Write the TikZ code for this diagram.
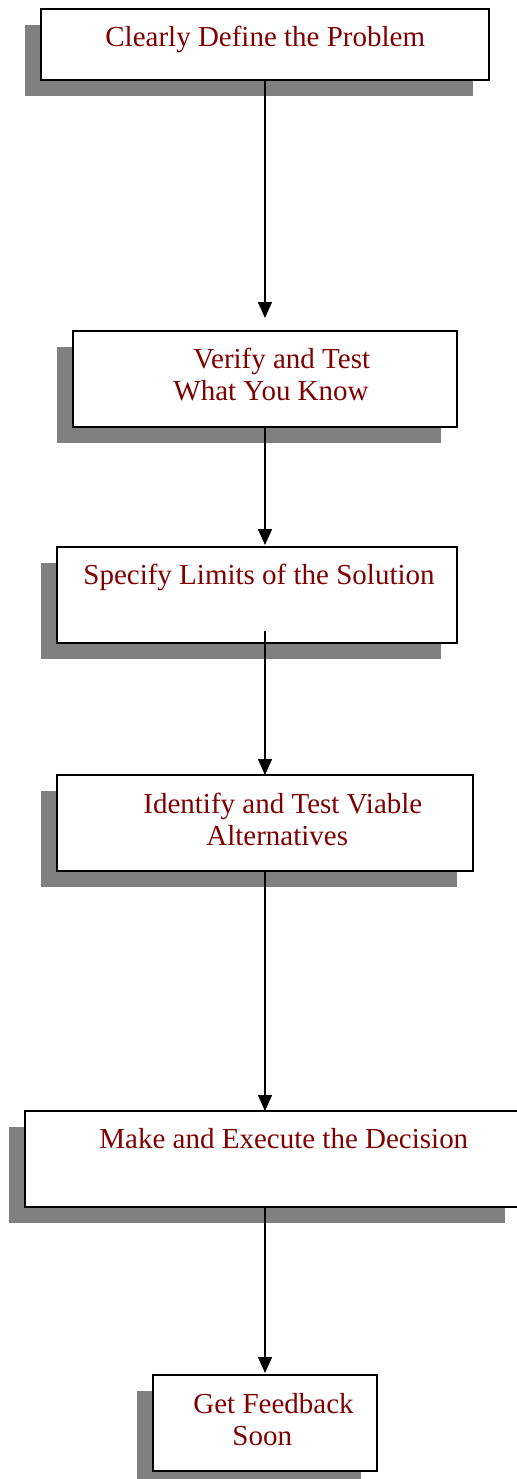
\documentclass[tikz,border=0pt]{standalone}
\usepackage{fontspec}
\setmainfont{Liberation Serif}
\usetikzlibrary{arrows.meta, shadows}
\definecolor{steptext}{RGB}{128,0,0}
\definecolor{shadowgray}{RGB}{128,128,128}

\tikzset{
  stepbox/.style={draw=black, line width=1pt, fill=white, inner sep=0pt, outer sep=0pt,
    drop shadow={shadow xshift=-8pt, shadow yshift=-8pt, fill=shadowgray, opacity=1}},
  steplabel/.style={text=steptext, font=\fontsize{14.5}{16}\selectfont,
    align=left, inner sep=0pt, anchor=base west},
  flow/.style={line width=0.75pt, -{Triangle[width=7pt, length=8pt]}}
}

\begin{document}
\begin{tikzpicture}[x=0.5pt, y=-0.5pt]
    \useasboundingbox (0,0) rectangle (516,1479);

    % Column the arrows run down
    \coordinate (spine) at (265,0);

    % Boxes of the six steps
    \node[stepbox, minimum width=224pt, minimum height=35.5pt] (define)  at (265,44.5) {};
    \node[stepbox, minimum width=192pt, minimum height=48pt]   (verify)  at (265,379)  {};
    \node[stepbox, minimum width=200pt, minimum height=48pt]   (limits)  at (257,595)  {};
    \node[stepbox, minimum width=208pt, minimum height=48pt]   (options) at (265,823)  {};
    \node[stepbox, minimum width=248pt, minimum height=48pt]   (decide)  at (273,1159) {};
    \node[stepbox, minimum width=112pt, minimum height=48pt]   (feedback) at (265,1423) {};

    % Step texts (base is the last line)
    \node[steplabel] (define-txt)   at (105,46)   {Clearly Define the Problem};
    \node[steplabel] (verify-txt)   at (173,400)  {\hspace*{10pt}Verify and Test\\What You Know};
    \node[steplabel] (limits-txt)   at (83,584)   {Specify Limits of the Solution};
    \node[steplabel] (options-txt)  at (143,845)  {Identify and Test Viable\\\hspace*{31.5pt}Alternatives};
    \node[steplabel] (decide-txt)   at (99,1148)  {Make and Execute the Decision};
    \node[steplabel] (feedback-txt) at (193,1445) {Get Feedback\\\hspace*{19.5pt}Soon};

    % Arrows between the steps
    \draw[flow, shorten >=6.5pt] (define.south -| spine) -- (verify.north -| spine);
    \draw[flow, shorten >=1pt]   (verify.south -| spine) -- (limits.north -| spine);
    \draw[flow, shorten <=-6pt]  (limits.south -| spine) -- (options.north -| spine);
    \draw[flow]                  (options.south -| spine) -- (decide.north -| spine);
    \draw[flow, shorten >=1pt]   (decide.south -| spine) -- (feedback.north -| spine);

\end{tikzpicture}
\end{document}
